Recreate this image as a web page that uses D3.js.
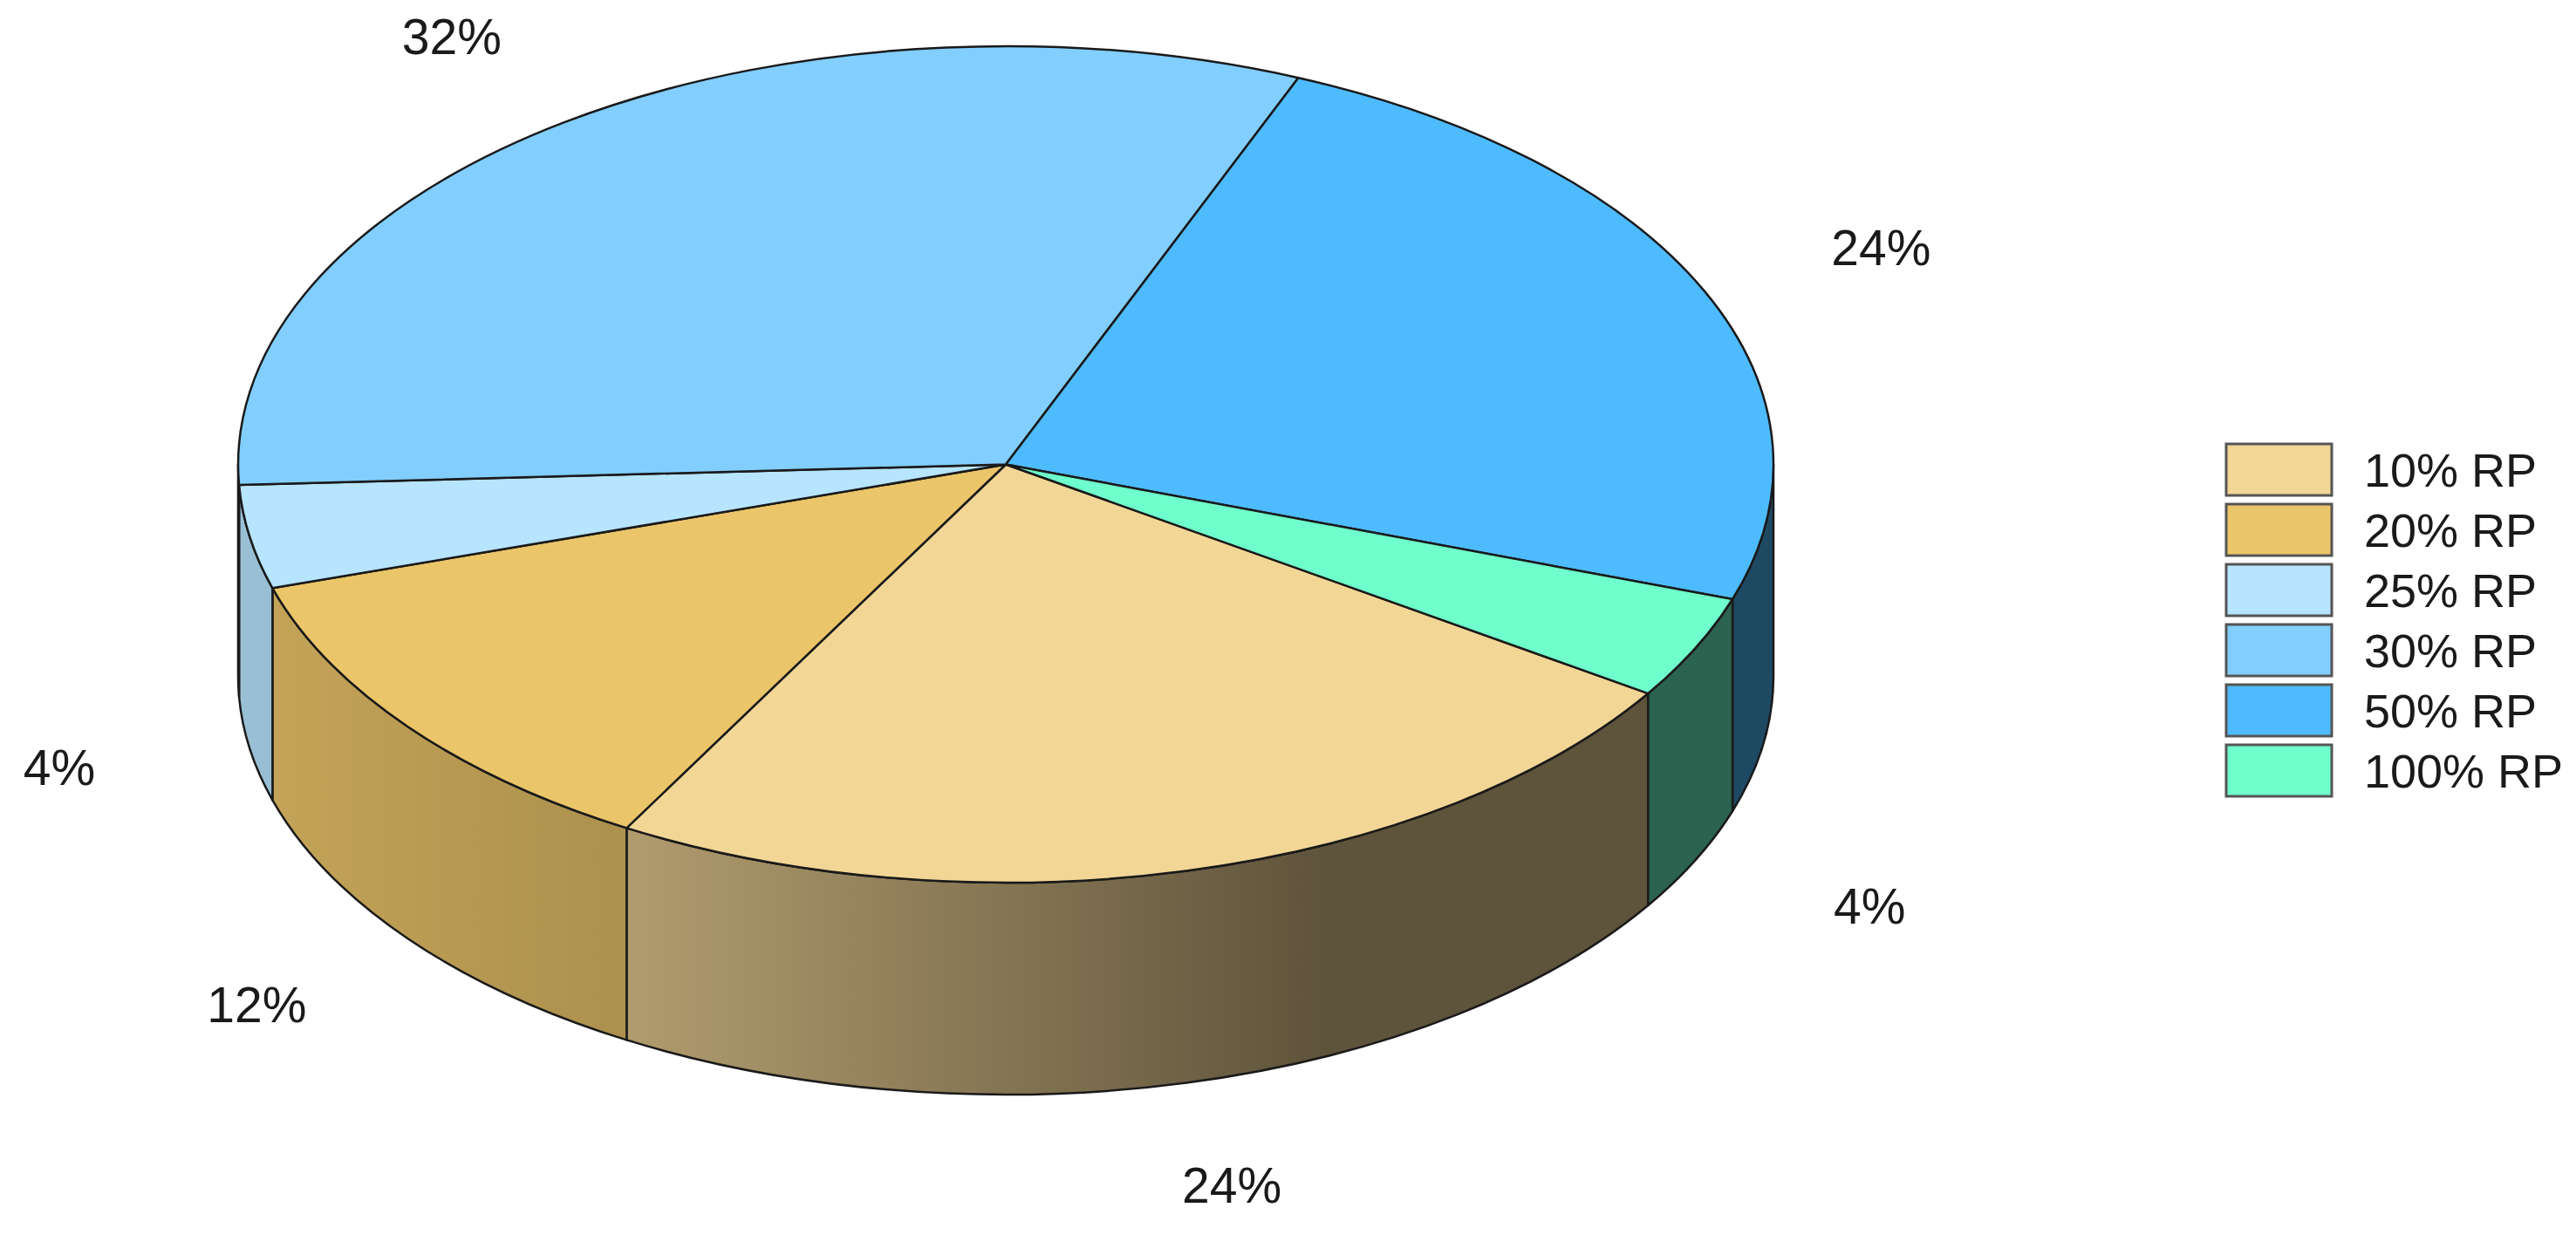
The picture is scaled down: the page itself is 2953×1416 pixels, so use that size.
<!DOCTYPE html>
<html>
<head>
<meta charset="utf-8">
<script src="https://cdn.jsdelivr.net/npm/d3@7"></script>
<style>
  body { margin: 0; background: #fff; }
  text { font-family: "Liberation Sans", Arial, sans-serif; fill: #1a1a1a; }
</style>
</head>
<body>
<script>
// data
const categories = ["10% RP", "20% RP", "25% RP", "30% RP", "50% RP", "100% RP"];
const shares = [24, 12, 4, 32, 24, 4];
const shareLabels = ["24%", "12%", "4%", "32%", "24%", "4%"];
const topColors = ["#F2D696", "#EBC569", "#B7E4FF", "#82CEFF", "#4EBBFF", "#6FFFCC"];

const width = 2953, height = 1416;
const cx = 1153, cy = 532.5, rx = 880, ry = 479.5, depth = 243;
const labelK = 1.252;
const startDeg = 123.2;

// side shading goes darker from left to right
const shadeStops = [[0, 0.84], [0.254, 0.73], [0.711, 0.39], [1, 0.39]];

const svg = d3.select("body").append("svg")
    .attr("width", width)
    .attr("height", height);

const defs = svg.append("defs");

const pie = d3.pie().sort(null).value(d => d)
    .startAngle(startDeg * Math.PI / 180)
    .endAngle(startDeg * Math.PI / 180 + 2 * Math.PI);
const arcs = pie(shares);

function pt(a, dy) {
    return [cx + rx * Math.sin(a), cy - ry * Math.cos(a) + (dy || 0)];
}

topColors.forEach(function(c, i) {
    const g = defs.append("linearGradient")
        .attr("id", "side" + i)
        .attr("gradientUnits", "userSpaceOnUse")
        .attr("x1", cx - rx).attr("x2", cx + rx)
        .attr("y1", 0).attr("y2", 0);
    shadeStops.forEach(function(s) {
        g.append("stop")
            .attr("offset", s[0])
            .attr("stop-color", d3.interpolateRgb("#000", c)(s[1]));
    });
});

// front walls: only the part of each slice that lies on the near half
const walls = [];
arcs.forEach(function(d, i) {
    [[Math.PI / 2, 3 * Math.PI / 2], [5 * Math.PI / 2, 7 * Math.PI / 2]].forEach(function(r) {
        const a0 = Math.max(d.startAngle, r[0]);
        const a1 = Math.min(d.endAngle, r[1]);
        if (a1 > a0) walls.push({i: i, a0: a0, a1: a1});
    });
});

svg.append("g")
    .selectAll("path")
    .data(walls)
    .join("path")
    .attr("d", function(w) {
        const p0 = pt(w.a0), p1 = pt(w.a1), q1 = pt(w.a1, depth), q0 = pt(w.a0, depth);
        return "M" + p0 + "A" + rx + "," + ry + " 0 0 1 " + p1 +
            "L" + q1 + "A" + rx + "," + ry + " 0 0 0 " + q0 + "Z";
    })
    .attr("fill", w => "url(#side" + w.i + ")")
    .attr("stroke", "#1a1a1a")
    .attr("stroke-width", 2.5)
    .attr("stroke-linejoin", "round");

// top faces
svg.append("g")
    .selectAll("path")
    .data(arcs)
    .join("path")
    .attr("d", function(d) {
        const p0 = pt(d.startAngle), p1 = pt(d.endAngle);
        const large = d.endAngle - d.startAngle > Math.PI ? 1 : 0;
        return "M" + cx + "," + cy + "L" + p0 + "A" + rx + "," + ry + " 0 " + large + " 1 " + p1 + "Z";
    })
    .attr("fill", (d, i) => topColors[i])
    .attr("stroke", "#1a1a1a")
    .attr("stroke-width", 2.5)
    .attr("stroke-linejoin", "round");

// percentage labels
svg.append("g")
    .selectAll("text")
    .data(arcs)
    .join("text")
    .attr("x", d => cx + labelK * rx * Math.sin((d.startAngle + d.endAngle) / 2))
    .attr("y", function(d) {
        const c = -Math.cos((d.startAngle + d.endAngle) / 2);
        return cy + labelK * ry * c + (c > 0 ? depth : 0);
    })
    .attr("text-anchor", "middle")
    .attr("dominant-baseline", "central")
    .attr("font-size", 57)
    .text((d, i) => shareLabels[i]);

// legend
const legend = svg.append("g").attr("transform", "translate(2552,509)");
const item = legend.selectAll("g")
    .data(categories)
    .join("g")
    .attr("transform", (d, i) => "translate(0," + i * 69 + ")");
item.append("rect")
    .attr("width", 121)
    .attr("height", 59)
    .attr("fill", (d, i) => topColors[i])
    .attr("stroke", "#555")
    .attr("stroke-width", 3);
item.append("text")
    .attr("x", 158)
    .attr("y", 30)
    .attr("dominant-baseline", "central")
    .attr("font-size", 54)
    .text(d => d);
</script>
</body>
</html>
